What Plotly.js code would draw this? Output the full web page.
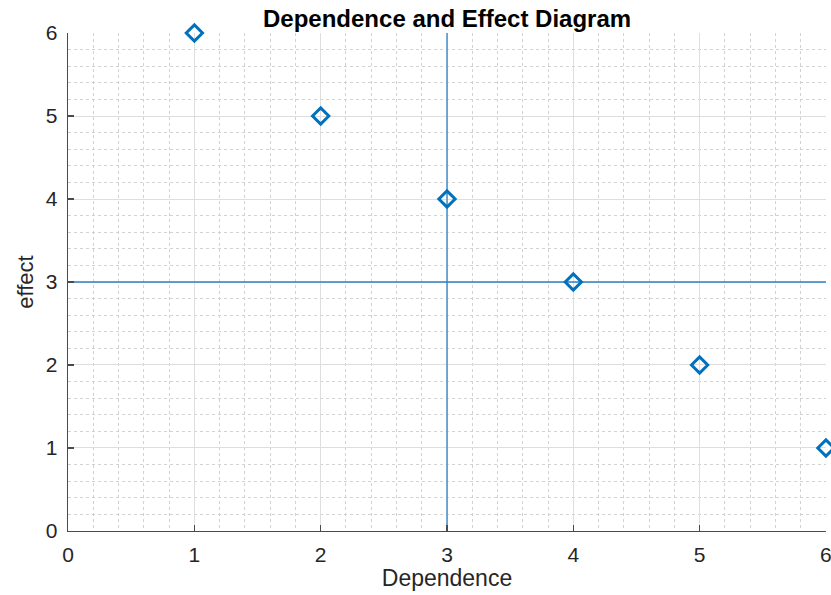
<!DOCTYPE html>
<html>
<head>
<meta charset="utf-8">
<script src="https://cdn.plot.ly/plotly-3.0.1.min.js"></script>
<style>html,body{margin:0;padding:0;background:#fff;}#chart{width:831px;height:595px;}</style>
</head>
<body>
<div id="chart"></div>
<script>
// Data
const dependence = [1, 2, 3, 4, 5, 6];
const effect = [6, 5, 4, 3, 2, 1];
const refDependence = 3;   // vertical reference line position
const refEffect = 3;       // horizontal reference line position
const axisMin = 0;
const axisMax = 6;
const tickValues = [0, 1, 2, 3, 4, 5, 6];

const blue = '#0072BD';
const font = 'Liberation Sans, Arial, Helvetica, sans-serif';

const traces = [
  {
    x: [refDependence, refDependence], y: [axisMin, axisMax],
    mode: 'lines', line: {color: '#2f80c2', width: 1.3},
    hoverinfo: 'skip', showlegend: false, cliponaxis: true
  },
  {
    x: [axisMin, axisMax], y: [refEffect, refEffect],
    mode: 'lines', line: {color: '#2f80c2', width: 1.3},
    hoverinfo: 'skip', showlegend: false, cliponaxis: true
  },
  {
    x: dependence, y: effect,
    mode: 'markers', type: 'scatter',
    marker: {symbol: 'diamond-open', size: 12.5, color: blue, line: {color: blue, width: 3}},
    showlegend: false, cliponaxis: false
  }
];

const axisCommon = {
  range: [axisMin - 0.0005, axisMax + 0.0005],
  tickvals: tickValues,
  ticktext: tickValues.map(String),
  showline: true, linecolor: '#4a4a4a', linewidth: 1.3,
  ticks: 'inside', ticklen: 6, tickcolor: '#4a4a4a', tickwidth: 1.3,
  showgrid: true, gridcolor: '#dedede', gridwidth: 1,
  zeroline: false,
  ticklabeloverflow: 'allow',
  tickfont: {family: font, size: 21, color: '#262626'},
  minor: {dtick: 0.2, showgrid: true, gridcolor: '#d2d2d2', griddash: 'dot', gridwidth: 1, ticks: ''},
  fixedrange: true
};

const layout = {
  width: 831, height: 595,
  margin: {l: 68, r: 5, t: 33, b: 64},
  paper_bgcolor: '#ffffff', plot_bgcolor: '#ffffff',
  title: {
    text: '<b>Dependence and Effect Diagram</b>',
    font: {family: font, size: 24, color: '#000000'},
    x: 0.538, xanchor: 'center', y: 0.968, yanchor: 'middle'
  },
  xaxis: Object.assign({}, axisCommon, {
    ticklabelstandoff: 4,
    title: {text: 'Dependence', font: {family: font, size: 23, color: '#262626'}, standoff: 4}
  }),
  yaxis: Object.assign({}, axisCommon, {
    ticklabelstandoff: 5,
    title: {text: 'effect', font: {family: font, size: 22, color: '#262626'}, standoff: 6}
  }),
  showlegend: false
};

Plotly.newPlot('chart', traces, layout, {displayModeBar: false, staticPlot: true});
</script>
</body>
</html>
